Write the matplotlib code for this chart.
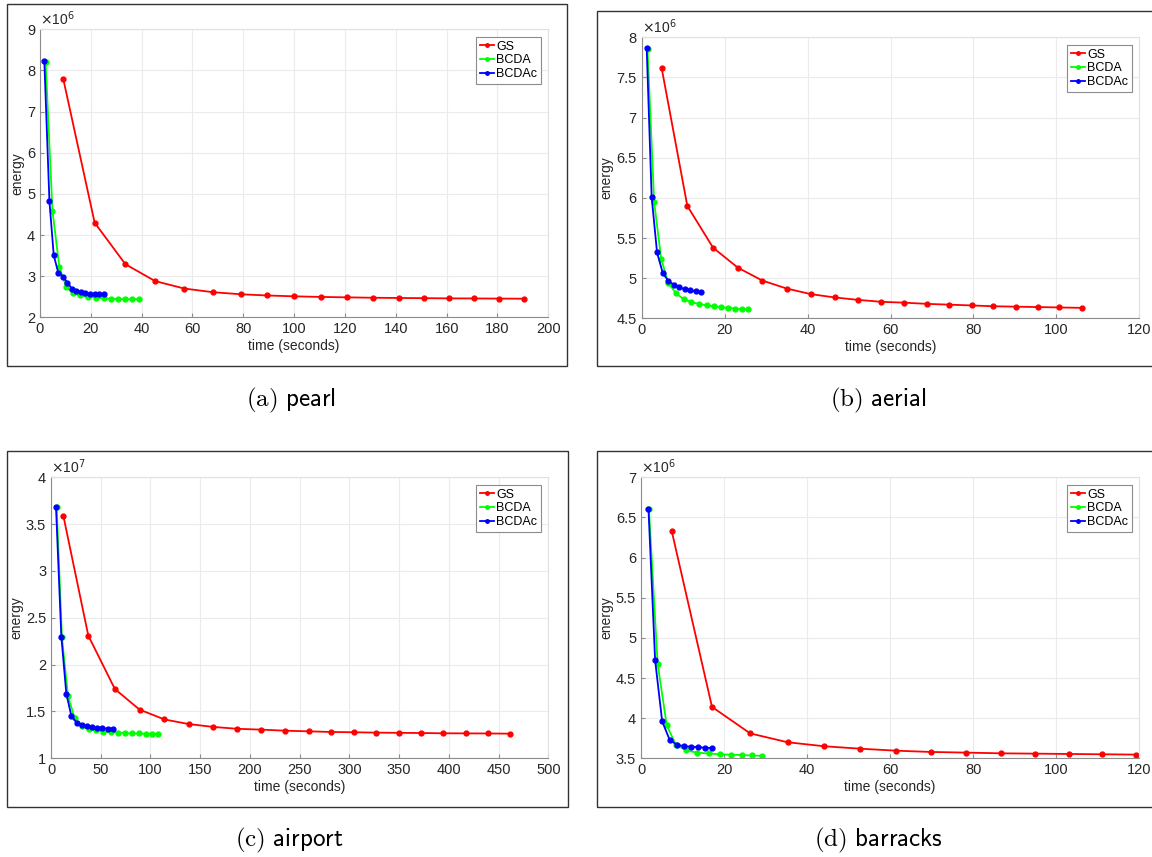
import numpy as np
import matplotlib
matplotlib.use('Agg')
import matplotlib.pyplot as plt
from matplotlib.patches import Rectangle
from matplotlib.ticker import FuncFormatter

plt.rcParams['font.family'] = ['Liberation Sans', 'DejaVu Sans']

# ---- data (time in seconds, energy in units of the scale factor) ----
pearl_gs_t = [9.2, 21.5, 33.6, 45.3, 56.7, 68.0, 79.0, 89.5, 100.0, 110.4, 120.6,
              131.1, 141.1, 151.0, 161.0, 170.9, 180.7, 190.4]
pearl_gs_e = [7.78, 4.30, 3.29, 2.88, 2.70, 2.61, 2.56, 2.53, 2.51, 2.495, 2.485,
              2.475, 2.47, 2.465, 2.46, 2.458, 2.455, 2.452]
pearl_bcda_t = [2.2, 4.9, 7.6, 10.4, 13.1, 15.7, 19.0, 22.0, 25.2, 28.1, 30.8, 33.5, 36.3, 39.0]
pearl_bcda_e = [8.21, 4.59, 3.23, 2.73, 2.58, 2.53, 2.49, 2.48, 2.46, 2.45, 2.445, 2.44, 2.44, 2.44]
pearl_bcdac_t = [1.7, 3.7, 5.4, 7.2, 9.1, 10.8, 12.5, 14.3, 16.1, 17.8, 19.6, 21.5, 23.4, 25.2]
pearl_bcdac_e = [8.24, 4.83, 3.51, 3.08, 2.99, 2.84, 2.70, 2.65, 2.61, 2.58, 2.57, 2.565, 2.565, 2.565]

aerial_gs_t = [4.8, 11.0, 17.2, 23.2, 29.1, 35.0, 40.9, 46.5, 52.1, 57.8, 63.2, 68.7,
               74.1, 79.6, 84.8, 90.2, 95.5, 100.7, 106.1]
aerial_gs_e = [7.62, 5.90, 5.38, 5.13, 4.97, 4.87, 4.80, 4.76, 4.73, 4.705, 4.695, 4.68,
               4.67, 4.66, 4.65, 4.645, 4.64, 4.635, 4.63]
aerial_bcda_t = [1.4, 3.0, 4.7, 6.4, 8.3, 10.1, 12.0, 13.8, 15.7, 17.5, 19.2, 20.9, 22.6, 24.2, 25.7]
aerial_bcda_e = [7.86, 5.95, 5.24, 4.94, 4.81, 4.74, 4.70, 4.68, 4.66, 4.65, 4.64, 4.63, 4.62, 4.615, 4.61]
aerial_bcdac_t = [1.2, 2.4, 3.7, 5.1, 6.4, 7.7, 9.0, 10.4, 11.7, 13.0, 14.3]
aerial_bcdac_e = [7.87, 6.01, 5.32, 5.06, 4.97, 4.92, 4.89, 4.86, 4.85, 4.835, 4.83]

airport_gs_t = [12.4, 37.5, 64.2, 89.0, 114.0, 138.8, 163.2, 187.3, 211.4, 234.9, 259.1,
                281.5, 304.4, 326.8, 349.7, 372.1, 394.6, 417.1, 439.3, 461.4]
airport_gs_e = [3.59, 2.31, 1.74, 1.52, 1.415, 1.365, 1.335, 1.315, 1.306, 1.295, 1.288,
                1.281, 1.278, 1.274, 1.272, 1.27, 1.267, 1.266, 1.265, 1.263]
airport_bcda_t = [5.7, 11.0, 17.1, 23.7, 30.8, 37.8, 45.2, 52.5, 59.9, 67.2, 74.2, 81.6,
                  88.6, 96.0, 102.0, 108.0]
airport_bcda_e = [3.68, 2.29, 1.665, 1.43, 1.35, 1.31, 1.30, 1.285, 1.28, 1.275, 1.27, 1.265,
                  1.265, 1.26, 1.26, 1.26]
airport_bcdac_t = [5.0, 10.4, 15.4, 20.4, 25.8, 30.8, 36.1, 41.1, 46.5, 51.5, 56.9, 62.2]
airport_bcdac_e = [3.687, 2.30, 1.69, 1.455, 1.38, 1.355, 1.345, 1.335, 1.325, 1.32, 1.318, 1.318]

barracks_gs_t = [7.4, 17.1, 26.3, 35.3, 44.1, 52.7, 61.4, 69.8, 78.2, 86.6, 94.8, 103.0, 111.1, 119.2]
barracks_gs_e = [6.33, 4.14, 3.81, 3.70, 3.65, 3.62, 3.595, 3.579, 3.571, 3.562, 3.558, 3.554, 3.55, 3.546]
barracks_bcda_t = [1.9, 4.0, 6.2, 8.4, 10.8, 13.5, 16.3, 19.0, 21.6, 24.3, 26.8, 29.2]
barracks_bcda_e = [6.61, 4.68, 3.91, 3.67, 3.60, 3.57, 3.56, 3.55, 3.545, 3.54, 3.535, 3.53]
barracks_bcdac_t = [1.8, 3.4, 5.1, 6.9, 8.6, 10.4, 12.0, 13.8, 15.5, 17.2]
barracks_bcdac_e = [6.61, 4.72, 3.96, 3.73, 3.67, 3.65, 3.645, 3.64, 3.63, 3.63]

labels = ['GS', 'BCDA', 'BCDAc']
colors = ['#ff0000', '#00ff00', '#0000ff']

W, H = 1152, 857
fig = plt.figure(figsize=(W / 100, H / 100), dpi=100)


def px_axes(l, r, t, b):
    return fig.add_axes([l / W, 1 - b / H, (r - l) / W, (b - t) / H])


def frame(l, r, t, b):
    fig.patches.append(Rectangle((l / W, 1 - b / H), (r - l) / W, (b - t) / H,
                                 transform=fig.transFigure, fill=False,
                                 edgecolor='#333333', lw=1.0))


panels = [
    dict(box=(7, 567, 3.5, 366), ax=(40, 548.3, 29.3, 317.3), cap=(291, 400),
         letter='a', name='pearl', exp=6, xlim=(0, 200), xstep=20, ylim=(2, 9), ystep=1,
         series=[(pearl_gs_t, pearl_gs_e), (pearl_bcda_t, pearl_bcda_e), (pearl_bcdac_t, pearl_bcdac_e)]),
    dict(box=(597, 1165, 10.7, 366), ax=(641.7, 1139.3, 37.3, 318.3), cap=(878, 400),
         letter='b', name='aerial', exp=6, xlim=(0, 120), xstep=20, ylim=(4.5, 8), ystep=0.5,
         series=[(aerial_gs_t, aerial_gs_e), (aerial_bcda_t, aerial_bcda_e), (aerial_bcdac_t, aerial_bcdac_e)]),
    dict(box=(7, 567.7, 450.7, 806.7), ax=(51, 548.3, 477.3, 758.3), cap=(289, 840),
         letter='c', name='airport', exp=7, xlim=(0, 500), xstep=50, ylim=(1, 4), ystep=0.5,
         series=[(airport_gs_t, airport_gs_e), (airport_bcda_t, airport_bcda_e), (airport_bcdac_t, airport_bcdac_e)]),
    dict(box=(597, 1165, 450.7, 806.7), ax=(641, 1139.3, 477.3, 758.3), cap=(878, 840),
         letter='d', name='barracks', exp=6, xlim=(0, 120), xstep=20, ylim=(3.5, 7), ystep=0.5,
         series=[(barracks_gs_t, barracks_gs_e), (barracks_bcda_t, barracks_bcda_e), (barracks_bcdac_t, barracks_bcdac_e)]),
]

for p in panels:
    frame(*p['box'])
    ax = px_axes(*p['ax'])
    scale = 10.0 ** p['exp']
    for (t, e), lab, c in zip(p['series'], labels, colors):
        ax.plot(t, np.array(e) * scale, color=c, lw=1.3, marker='.', markersize=7, label=lab)

    ax.set_xlim(*p['xlim'])
    ax.set_ylim(p['ylim'][0] * scale, p['ylim'][1] * scale)
    ax.set_xticks(np.arange(p['xlim'][0], p['xlim'][1] + 1e-9, p['xstep']))
    ax.set_yticks(np.arange(p['ylim'][0], p['ylim'][1] + 1e-9, p['ystep']) * scale)
    ax.xaxis.set_major_formatter(FuncFormatter(lambda v, pos: f'{v:g}'))
    ax.yaxis.set_major_formatter(FuncFormatter(lambda v, pos, s=scale: f'{v / s:g}'))
    ax.text(0.0, 1.005, r'$\times$10$^{%d}$' % p['exp'], transform=ax.transAxes,
            ha='left', va='bottom', fontsize=10, color='#262626')

    ax.grid(True, color='#ebebeb', lw=0.8)
    ax.set_axisbelow(True)
    for s in ['top', 'right']:
        ax.spines[s].set_color('#e0e0e0')
    for s in ['left', 'bottom']:
        ax.spines[s].set_color('#8c8c8c')
    ax.tick_params(direction='in', length=3, labelsize=10.5, colors='#262626',
                   top=False, right=False)
    ax.tick_params(axis='both', color='#8c8c8c')
    ax.set_xlabel('time (seconds)', fontsize=10, color='#262626', labelpad=2)
    ax.set_ylabel('energy', fontsize=10, color='#262626', labelpad=2)

    leg = ax.legend(loc='upper right', fontsize=9, handlelength=1.1, handletextpad=0.2,
                    borderpad=0.3, labelspacing=0.15, borderaxespad=0.6,
                    fancybox=False, framealpha=1, edgecolor='#8c8c8c')
    leg.get_frame().set_linewidth(0.8)
    for line in leg.get_lines():
        line.set_markersize(5)

    fig.text(p['cap'][0] / W, 1 - p['cap'][1] / H,
             r'$\mathrm{(%s)}\ \mathsf{%s}$' % (p['letter'], p['name']),
             ha='center', va='center', fontsize=18, math_fontfamily='cm')

fig.savefig('out.png', dpi=100)
